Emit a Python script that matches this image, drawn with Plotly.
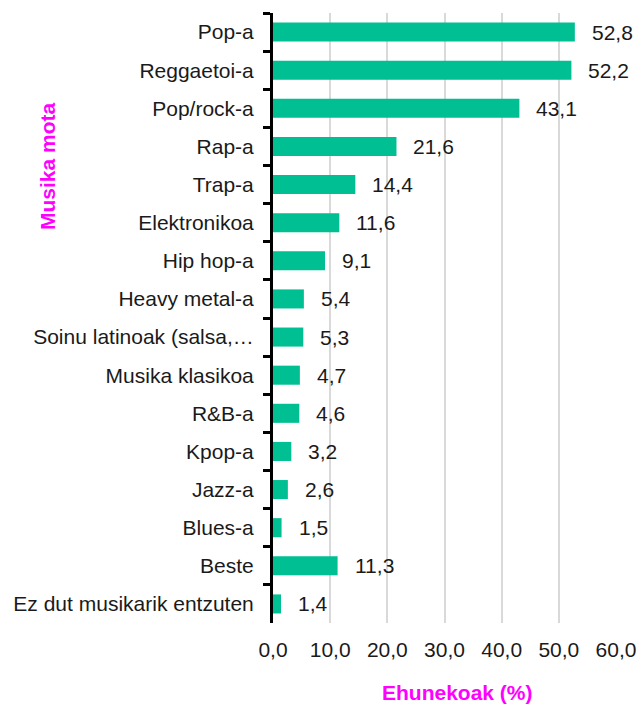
import plotly.graph_objects as go

categories = ["Pop-a", "Reggaetoi-a", "Pop/rock-a", "Rap-a", "Trap-a", "Elektronikoa",
              "Hip hop-a", "Heavy metal-a", "Soinu latinoak (salsa,…", "Musika klasikoa",
              "R&B-a", "Kpop-a", "Jazz-a", "Blues-a", "Beste", "Ez dut musikarik entzuten"]
values = [52.8, 52.2, 43.1, 21.6, 14.4, 11.6, 9.1, 5.4, 5.3, 4.7, 4.6, 3.2, 2.6, 1.5, 11.3, 1.4]
x_ticks = [0, 10, 20, 30, 40, 50, 60]

BAR = "#00BF93"
MAG = "#FF00FF"
FONT = "Liberation Sans, Arial, sans-serif"
FS = 21
TXT = "#1a1a1a"

L, R, T, B = 273, 616, 13, 623

fig = go.Figure()
fig.add_trace(go.Bar(
    y=categories, x=values, orientation="h",
    marker=dict(color=BAR, line=dict(width=0)),
    width=0.5,
    hoverinfo="skip",
))

for c, v in zip(categories, values):
    fig.add_annotation(x=v, y=c, xref="x", yref="y", text=f"{v:.1f}".replace(".", ","),
                       showarrow=False, xanchor="left", xshift=15,
                       font=dict(family=FONT, size=FS, color=TXT))

fig.add_annotation(x=(457 - L) / (R - L), y=-(693 - B) / (B - T), xref="paper", yref="paper",
                   text="<b>Ehunekoak (%)</b>", showarrow=False,
                   xanchor="center", yanchor="middle",
                   font=dict(family=FONT, size=FS, color=MAG))
fig.add_annotation(x=-(L - 47) / (R - L), y=1 - (166 - T) / (B - T),
                   xref="paper", yref="paper", text="<b>Musika mota</b>", textangle=-90,
                   showarrow=False, xanchor="center", yanchor="middle",
                   font=dict(family=FONT, size=FS, color=MAG))

fig.update_layout(
    width=640, height=705,
    margin=dict(l=L, r=640 - R, t=T, b=705 - B, autoexpand=False),
    plot_bgcolor="white", paper_bgcolor="white",
    showlegend=False,
    separators=",.",
    font=dict(family=FONT, size=FS, color=TXT),
)

fig.update_xaxes(range=[0, 60], tickvals=x_ticks, tickformat=".1f", automargin=False,
                 showgrid=True, gridcolor="#D9D9D9", gridwidth=2,
                 zeroline=False, showline=False, ticks="", ticklabelstandoff=12,
                 tickfont=dict(family=FONT, size=FS, color=TXT))
fig.update_yaxes(autorange="reversed", categoryorder="array", categoryarray=categories,
                 automargin=False,
                 showline=True, linecolor="black", linewidth=3, ticks="outside",
                 tickson="boundaries", ticklen=7, tickwidth=3, tickcolor="black",
                 ticklabelstandoff=12, showgrid=False,
                 tickfont=dict(family=FONT, size=FS, color=TXT))

fig.write_html("out.html", config={"displayModeBar": False},
               post_script="document.body.style.margin='0';document.body.style.overflow='hidden';")
